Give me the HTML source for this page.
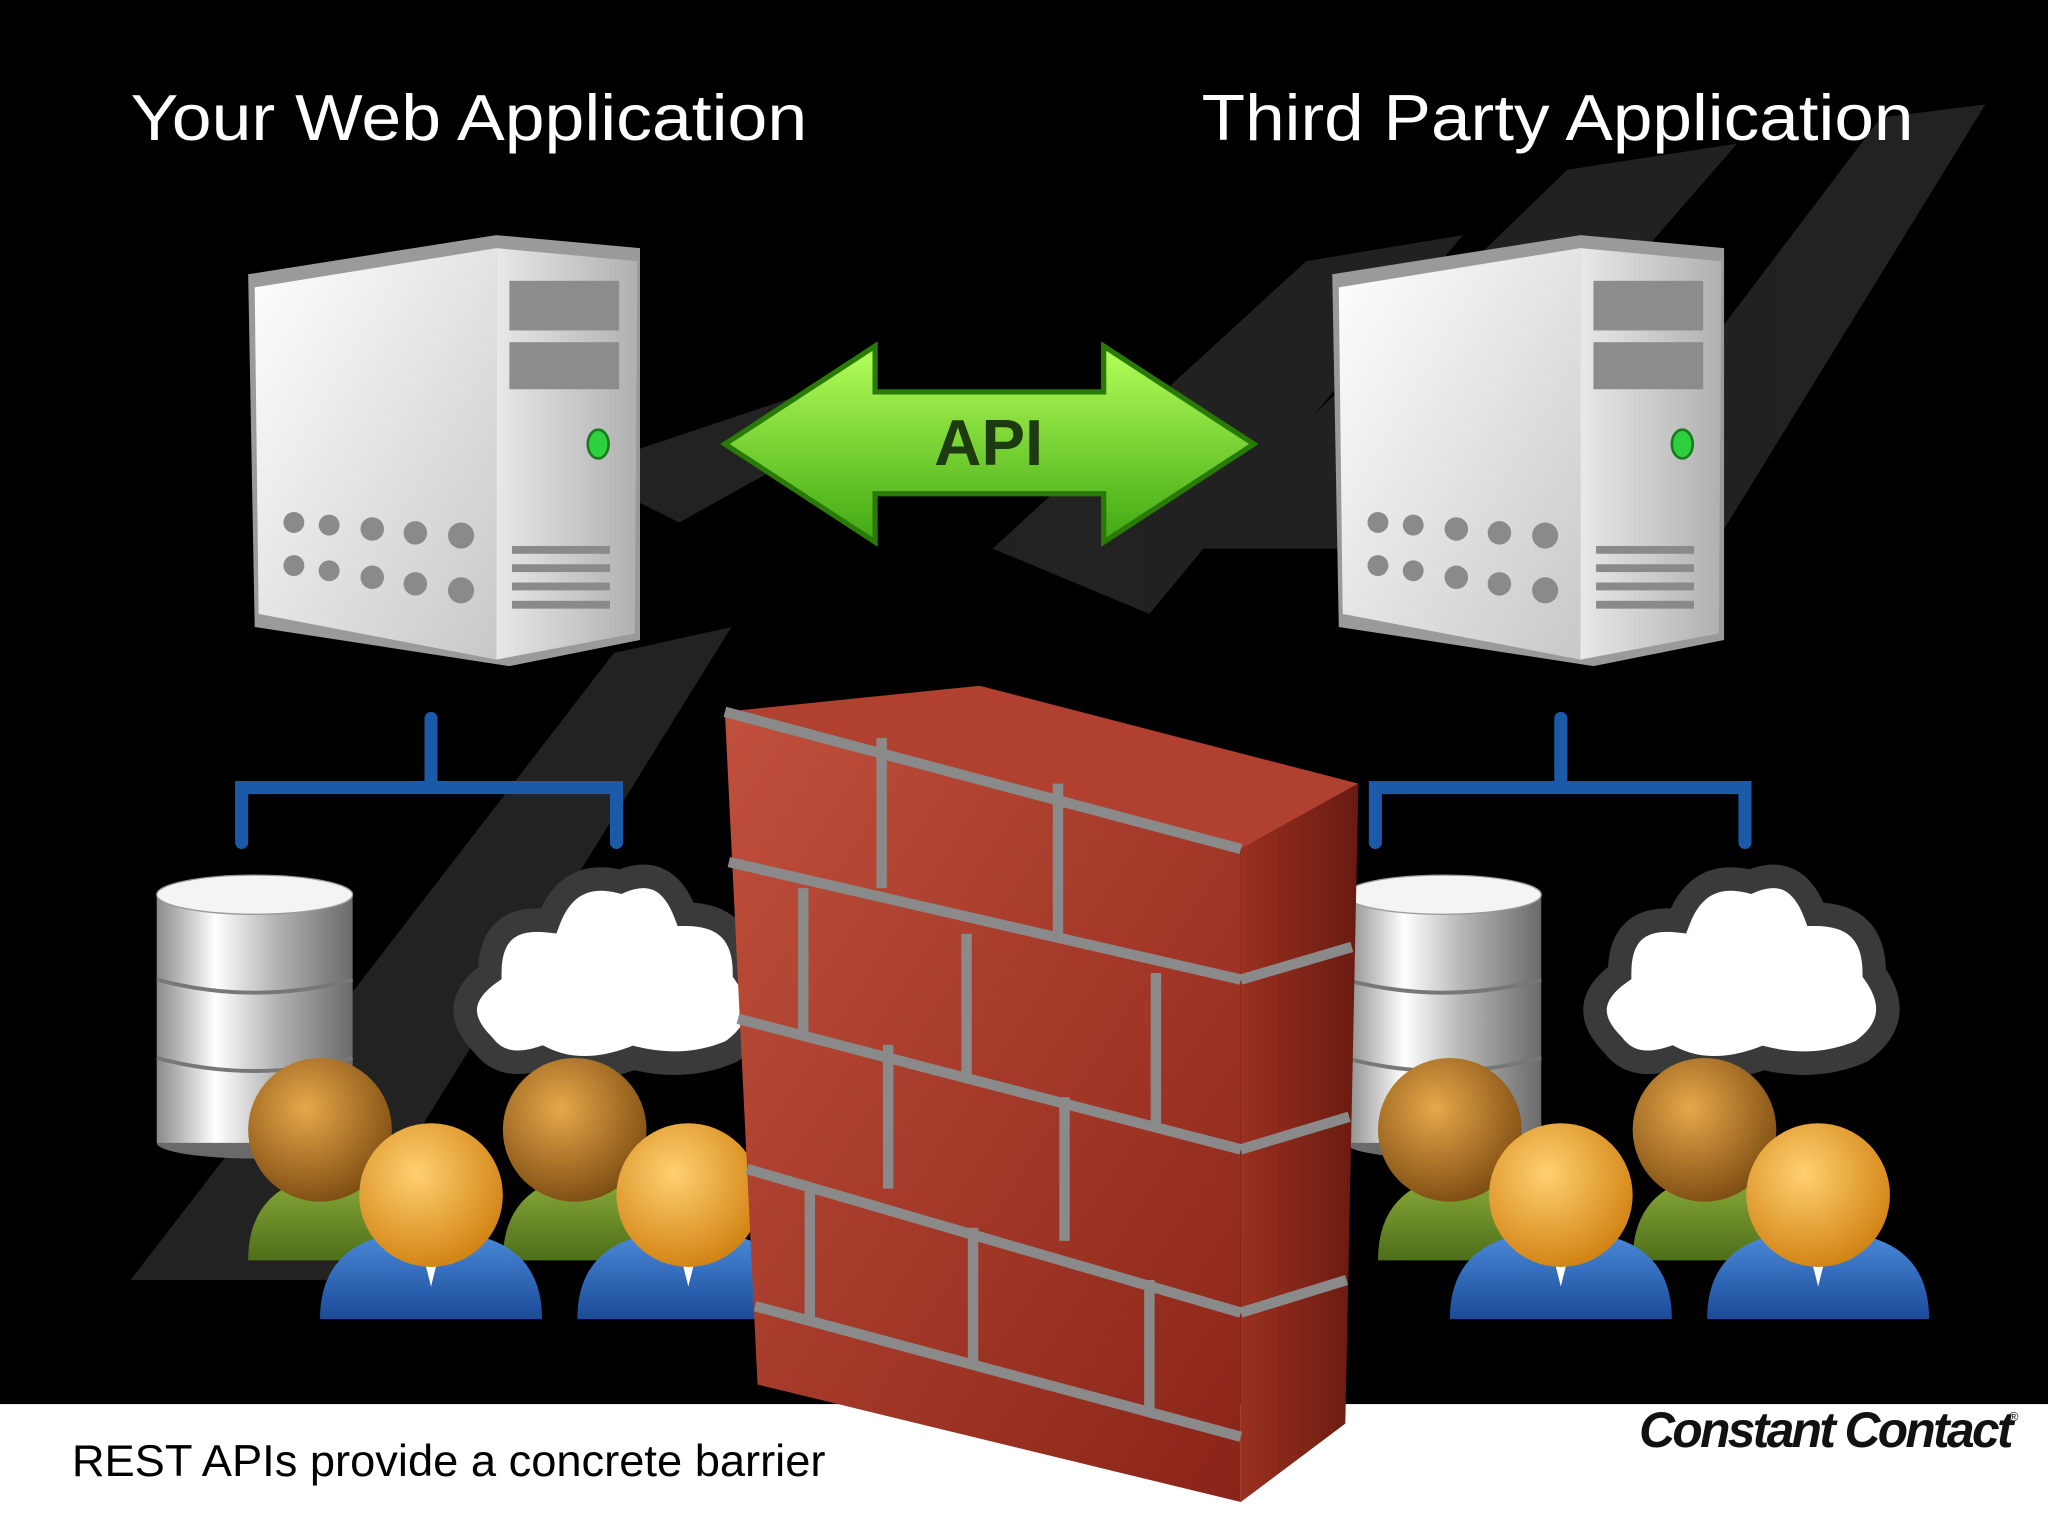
<!DOCTYPE html>
<html><head><meta charset="utf-8"><style>
html,body{margin:0;padding:0;background:#000;}
svg{display:block;}
</style></head><body>
<svg width="2048" height="1536" viewBox="0 0 1568 1176" xmlns="http://www.w3.org/2000/svg">
<defs>
<linearGradient id="srvFront" x1="0" y1="0" x2="1" y2="1"><stop offset="0" stop-color="#ffffff"/><stop offset="1" stop-color="#c8c8c8"/></linearGradient>
<linearGradient id="srvSide" x1="0" y1="0" x2="1" y2="0"><stop offset="0" stop-color="#e8e8e8"/><stop offset="1" stop-color="#b0b0b0"/></linearGradient>
<linearGradient id="green" x1="0" y1="0" x2="0" y2="1"><stop offset="0" stop-color="#b6ff5a"/><stop offset="1" stop-color="#3fa812"/></linearGradient>
<linearGradient id="cyl" x1="0" y1="0" x2="1" y2="0"><stop offset="0" stop-color="#8a8a8a"/><stop offset="0.3" stop-color="#ffffff"/><stop offset="0.6" stop-color="#b5b5b5"/><stop offset="1" stop-color="#6a6a6a"/></linearGradient>
<radialGradient id="headB" cx="0.4" cy="0.35" r="0.7"><stop offset="0" stop-color="#e8a84a"/><stop offset="1" stop-color="#7a4a10"/></radialGradient>
<radialGradient id="headO" cx="0.4" cy="0.35" r="0.7"><stop offset="0" stop-color="#ffd070"/><stop offset="1" stop-color="#d08010"/></radialGradient>
<linearGradient id="bodyG" x1="0" y1="0" x2="0" y2="1"><stop offset="0" stop-color="#8aac3a"/><stop offset="1" stop-color="#4e6e18"/></linearGradient>
<linearGradient id="bodyB" x1="0" y1="0" x2="0" y2="1"><stop offset="0" stop-color="#4a8ad8"/><stop offset="1" stop-color="#1a4a98"/></linearGradient>
<linearGradient id="brick" x1="0" y1="0" x2="1" y2="1"><stop offset="0" stop-color="#c0503c"/><stop offset="1" stop-color="#8a2418"/></linearGradient>
<linearGradient id="brickSide" x1="0" y1="0" x2="1" y2="0"><stop offset="0" stop-color="#9a3020"/><stop offset="1" stop-color="#6a1a10"/></linearGradient>
<g id="server">
 <polygon points="0,30 190,0 300,10 300,310 200,330 5,300" fill="#9a9a9a"/>
 <polygon points="5,40 190,10 190,325 8,290" fill="url(#srvFront)"/>
 <polygon points="190,10 298,20 296,305 190,325" fill="url(#srvSide)"/>
 <rect x="200" y="35" width="84" height="38" fill="#8c8c8c"/>
 <rect x="200" y="82" width="84" height="36" fill="#8c8c8c"/>
 <ellipse cx="268" cy="160" rx="8" ry="11" fill="#2fd040" stroke="#1a7a20" stroke-width="2"/>
 <g fill="#8a8a8a">
  <circle cx="35" cy="220" r="8"/><circle cx="62" cy="222" r="8"/><circle cx="95" cy="225" r="9"/><circle cx="128" cy="228" r="9"/><circle cx="163" cy="230" r="10"/>
  <circle cx="35" cy="253" r="8"/><circle cx="62" cy="257" r="8"/><circle cx="95" cy="262" r="9"/><circle cx="128" cy="267" r="9"/><circle cx="163" cy="272" r="10"/>
 </g>
 <g fill="#8a8a8a"><rect x="202" y="238" width="75" height="6"/><rect x="202" y="252" width="75" height="6"/><rect x="202" y="266" width="75" height="6"/><rect x="202" y="280" width="75" height="6"/></g>
</g>
<g id="db">
 <ellipse cx="75" cy="205" rx="75" ry="12" fill="#6a6a6a"/>
 <rect x="0" y="15" width="150" height="190" fill="url(#cyl)"/>
 <path d="M0 80 Q75 100 150 80 M0 140 Q75 160 150 140" stroke="#777" stroke-width="3" fill="none"/>
 <ellipse cx="75" cy="15" rx="75" ry="15" fill="#f4f4f4" stroke="#999"/>
</g>
<g id="cloud">
 <path d="M-95 40 Q-125 10 -90 -15 Q-90 -60 -45 -55 Q-30 -95 10 -85 Q45 -100 60 -60 Q105 -60 105 -15 Q130 20 95 45 Q60 60 20 50 Q-20 65 -50 50 Q-80 60 -95 40Z" fill="#fff" stroke="#3a3a3a" stroke-width="18"/>
</g>
<g id="people">
 <path d="M30 150 Q30 95 85 85 L125 85 Q175 95 175 150 Z" fill="url(#bodyG)"/>
 <circle cx="85" cy="50" r="55" fill="url(#headB)"/>
 <path d="M225 150 Q225 95 280 85 L320 85 Q370 95 370 150 Z" fill="url(#bodyG)"/>
 <circle cx="280" cy="50" r="55" fill="url(#headB)"/>
 <path d="M85 195 Q85 140 140 130 L200 130 Q255 140 255 195 Z" fill="url(#bodyB)"/>
 <polygon points="160,130 180,130 170,170" fill="#fff"/>
 <circle cx="170" cy="100" r="55" fill="url(#headO)"/>
 <path d="M282 195 Q282 140 337 130 L397 130 Q452 140 452 195 Z" fill="url(#bodyB)"/>
 <polygon points="357,130 377,130 367,170" fill="#fff"/>
 <circle cx="367" cy="100" r="55" fill="url(#headO)"/>
</g>
</defs>
<rect width="1568" height="1176" fill="#000"/>
<g fill="#2a2a2a" opacity="0.8">
 <polygon points="760,420 1000,200 1120,180 880,470"/>
 <polygon points="900,420 1200,130 1330,110 1060,420"/>
 <polygon points="100,980 470,500 560,480 250,980"/>
 <polygon points="1160,460 1440,90 1520,80 1280,470"/>
 <polygon points="440,360 620,300 700,300 520,400"/>
</g>
<rect x="0" y="1075" width="1568" height="101" fill="#fff"/>
<text x="100" y="107" font-family="Liberation Sans, sans-serif" font-size="50" fill="#fff" textLength="518" lengthAdjust="spacingAndGlyphs">Your Web Application</text>
<text x="920" y="107" font-family="Liberation Sans, sans-serif" font-size="50" fill="#fff" textLength="545" lengthAdjust="spacingAndGlyphs">Third Party Application</text>
<use href="#server" x="190" y="180"/>
<use href="#server" x="1020" y="180"/>
<polygon points="555,340 670,265 670,300 845,300 845,265 960,340 845,415 845,378 670,378 670,415" fill="url(#green)" stroke="#2a7a08" stroke-width="4"/>
<text x="757" y="356" text-anchor="middle" font-family="Liberation Sans, sans-serif" font-weight="bold" font-size="50" fill="#1e3a10">API</text>
<g stroke="#1a5aa8" stroke-width="10" fill="none" stroke-linecap="round">
 <path d="M330 550 V603 M185 645 V603 H472 V645"/>
 <path d="M1195 550 V603 M1053 645 V603 H1336 V645"/>
</g>
<use href="#db" x="120" y="670"/>
<use href="#db" x="1030" y="670"/>
<use href="#cloud" x="465" y="760"/>
<use href="#cloud" x="1330" y="760"/>
<use href="#people" x="160" y="815"/>
<use href="#people" x="1025" y="815"/>
<polygon points="555,545 750,525 1040,600 950,650" fill="#b04030"/>
<polygon points="555,545 950,650 950,1150 580,1060" fill="url(#brick)"/>
<polygon points="950,650 1040,600 1030,1090 950,1150" fill="url(#brickSide)"/>
<g stroke="#8a8a8a" stroke-width="8" fill="none">
 <path d="M558 660 L950 750 M565 780 L950 880 M572 895 L950 1005 M578 1000 L950 1100"/>
 <path d="M950 750 L1035 725 M950 880 L1033 855 M950 1005 L1031 980"/>
 <path d="M555 545 L950 650 M675 565 V680 M810 600 V715 M615 680 V790 M740 715 V825 M885 745 V860 M680 800 V910 M815 840 V950 M620 910 V1010 M745 940 V1045 M880 980 V1080"/>
</g>
<text x="55" y="1130" font-family="Liberation Sans, sans-serif" font-size="34" fill="#000" textLength="577" lengthAdjust="spacingAndGlyphs">REST APIs provide a concrete barrier</text>
<text x="1255" y="1108" font-family="Liberation Sans, sans-serif" font-style="italic" font-weight="bold" font-size="38" letter-spacing="-2" fill="#111">Constant Contact</text>
<text x="1538" y="1088" font-family="Liberation Sans, sans-serif" font-size="10" fill="#111">®</text>
</svg>
</body></html>
